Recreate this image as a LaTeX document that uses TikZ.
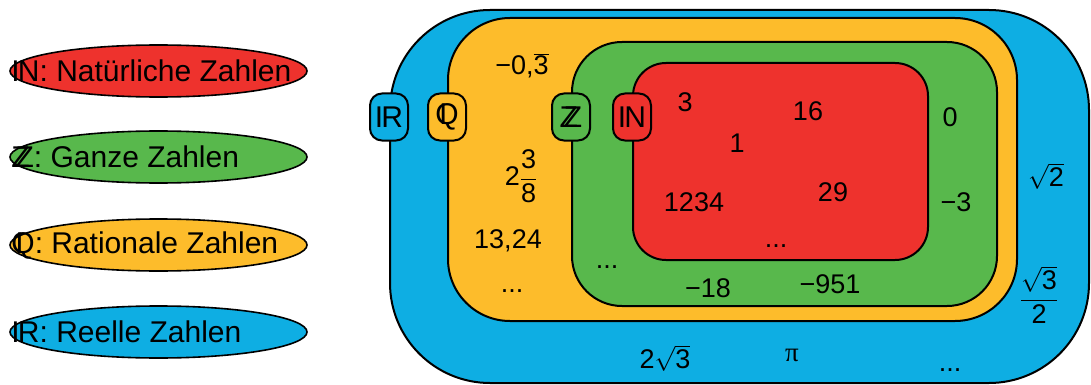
\documentclass[tikz,border=0pt]{standalone}
\usepackage{fontspec}
\setmainfont{Liberation Sans}
\newfontfamily\piserif{Liberation Serif}
\usetikzlibrary{shapes.geometric}
\definecolor{nred}{HTML}{EE322D}
\definecolor{ngreen}{HTML}{58B84C}
\definecolor{nyellow}{HTML}{FDBC2B}
\definecolor{nblue}{HTML}{0EAEE3}
\newcommand\dsN{I\kern-0.06em N}
\newcommand\dsR{I\kern-0.06em R}
\newcommand\dsZ{\rlap{Z}\kern0.14em Z}
\newcommand\dsQ{\rlap{\kern0.13em I}Q}
\newcommand\mb[1]{\hbox{#1}}
\begin{document}
\begin{tikzpicture}[x=1pt,y=-1pt,
  setbox/.style={draw=black,line width=2pt,rectangle,inner sep=0pt},
  tagbox/.style={draw=black,line width=2pt,rectangle,rounded corners=12pt,minimum width=38pt,minimum height=47pt,inner sep=0pt,font=\fontsize{30}{36}\selectfont},
  legend/.style={draw=black,line width=1.6pt,ellipse,minimum width=297pt,minimum height=52pt,inner sep=0pt},
  legtext/.style={anchor=west,inner sep=0pt,font=\fontsize{30}{36}\selectfont},
  num/.style={inner sep=0pt,font=\fontsize{27}{32}\selectfont},
  dots/.style={inner sep=0pt,anchor=base,font=\fontsize{27}{32}\selectfont}]
\useasboundingbox (0,0) rectangle (1091,385);
\fill[white] (0,0) rectangle (1091,385);
% legend
\node[legend,fill=nred] (e1) at (158.5,71) {};
\node[legend,fill=ngreen] (e2) at (158.5,157) {};
\node[legend,fill=nyellow] (e3) at (158.5,245) {};
\node[legend,fill=nblue] (e4) at (158.5,332) {};
\node[legtext] (t1) at ([xshift=2pt]e1.west) {\dsN: Natürliche Zahlen};
\node[legtext] (t2) at ([xshift=2pt]e2.west) {\dsZ: Ganze Zahlen};
\node[legtext] (t3) at ([xshift=2pt]e3.west) {\dsQ: Rationale Zahlen};
\node[legtext] (t4) at ([xshift=2pt]e4.west) {\dsR: Reelle Zahlen};
% sets
\node[setbox,fill=nblue,rounded corners=100pt,minimum width=699pt,minimum height=373pt] (R) at (739.5,196.5) {};
\node[setbox,fill=nyellow,rounded corners=62pt,minimum width=569pt,minimum height=303pt] (Q) at (732.5,169.5) {};
\node[setbox,fill=ngreen,rounded corners=50pt,minimum width=425pt,minimum height=264pt] (Z) at (784.5,174) {};
\node[setbox,fill=nred,rounded corners=33pt,minimum width=295pt,minimum height=197pt] (N) at (780.5,161.5) {};
% tags
\coordinate (tl) at (0,117);
\node[tagbox,fill=nblue] (tR) at (R.west |- tl) {\dsR};
\node[tagbox,fill=nyellow] (tQ) at (Q.west |- tl) {\dsQ};
\node[tagbox,fill=ngreen] (tZ) at (Z.west |- tl) {\dsZ};
\node[tagbox,fill=nred] (tN) at (N.west |- tl) {\dsN};
% numbers in N
\node[num] (n1) at (685,102) {3};
\node[num] (n2) at (808,111) {16};
\node[num] (n3) at (737,143) {1};
\node[num] (n4) at (694,202) {1234};
\node[num] (n5) at (833,192) {29};
\node[dots] (n6) at (776,247) {...};
% numbers in Z
\node[num] (z1) at (950,117) {0};
\node[num] (z2) at (956,202) {−3};
\node[num] (z3) at (708,288) {−18};
\node[num] (z4) at (830,284) {−951};
\node[dots] (z5) at (607,268) {...};
% numbers in Q
\node[num] (q1) at (522,66) {−0,$\overline{\mb{3}}$};
\node[num] (q2) at (521,176) {2$\displaystyle\frac{\mb{3}}{\mb{8}}$};
\node[num] (q3) at (508,241) {13,24};
\node[dots] (q4) at (512,292) {...};
% numbers in R
\node[num] (r1) at (1046,176) {$\sqrt{\mb{2}}$};
\node[num] (r2) at (1039,295) {$\displaystyle\frac{\sqrt{\mb{3}}}{\mb{2}}$};
\node[num] (r3) at (665,358) {2$\sqrt{\mb{3}}$};
\node[num] (r4) at (792,355) {\piserif π};
\node[dots] (r5) at (950,371) {...};
\end{tikzpicture}
\end{document}
